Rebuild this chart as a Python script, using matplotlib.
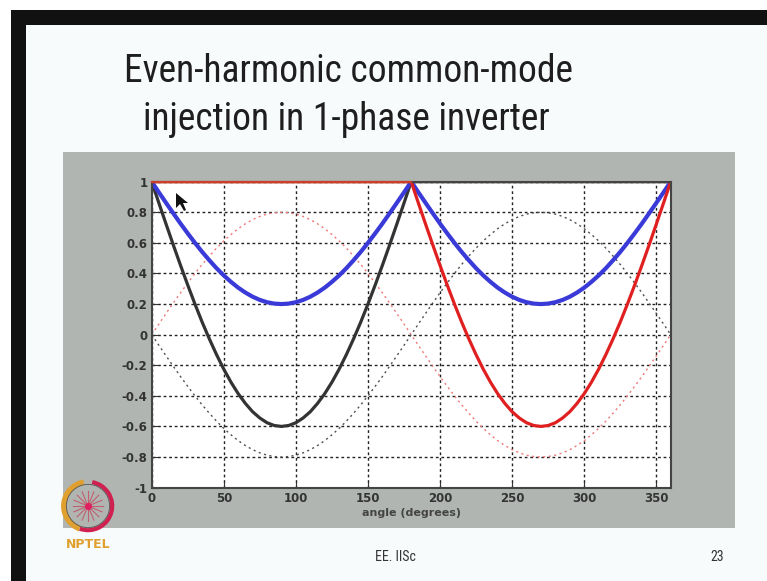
import numpy as np
import matplotlib.pyplot as plt
from matplotlib import font_manager
from matplotlib.patches import Rectangle, Arc, Polygon

# values, every 5 degrees over one half period (0..180)
half_angle = list(range(0, 181, 5))
sin_pos = [0, .070, .139, .207, .274, .338, .400, .459, .514, .566, .613, .655, .693, .725, .752, .773, .788, .797,
           .800, .797, .788, .773, .752, .725, .693, .655, .613, .566, .514, .459, .400, .338, .274, .207, .139, .070, 0]
sin_neg = [0, -.070, -.139, -.207, -.274, -.338, -.400, -.459, -.514, -.566, -.613, -.655, -.693, -.725, -.752,
           -.773, -.788, -.797, -.800, -.797, -.788, -.773, -.752, -.725, -.693, -.655, -.613, -.566, -.514, -.459,
           -.400, -.338, -.274, -.207, -.139, -.070, 0]
dip = [1, .930, .861, .793, .726, .662, .600, .541, .486, .434, .387, .345, .307, .275, .248, .227, .212, .203,
       .200, .203, .212, .227, .248, .275, .307, .345, .387, .434, .486, .541, .600, .662, .726, .793, .861, .930, 1]
deep = [1, .860, .722, .586, .453, .324, .200, .082, -.028, -.131, -.226, -.311, -.386, -.450, -.504, -.545, -.576,
        -.594, -.600, -.594, -.576, -.545, -.504, -.450, -.386, -.311, -.226, -.131, -.028, .082, .200, .324, .453,
        .586, .722, .860, 1]
flat = [1] * 37

angle = half_angle + [a + 180 for a in half_angle[1:]]
ref_a = sin_pos + sin_neg[1:]     # red dotted reference
ref_b = sin_neg + sin_pos[1:]     # black dotted reference
common = dip + dip[1:]            # blue common-mode
leg_a = flat + deep[1:]           # red solid
leg_b = deep + flat[1:]           # black solid

xticks = [0, 50, 100, 150, 200, 250, 300, 350]
yticks = [-1, -0.8, -0.6, -0.4, -0.2, 0, 0.2, 0.4, 0.6, 0.8, 1]
ylabels = ['-1', '-0.8', '-0.6', '-0.4', '-0.2', '0', '0.2', '0.4', '0.6', '0.8', '1']

# slide font is a narrow sans; use one if it is there
names = {f.name for f in font_manager.fontManager.ttflist}
narrow = next((n for n in ['Liberation Sans Narrow', 'DejaVu Sans Condensed', 'Roboto Condensed']
               if n in names), None)
if narrow:
    tfont, tsize = narrow, 27
else:
    tfont, tsize = 'Liberation Sans', 24

W, H = 767, 581
fig = plt.figure(figsize=(W / 100, H / 100), dpi=100)
fig.patch.set_facecolor('#f8fbfb')

def box(x0, y0, x1, y1, color, z=-5):
    # pixel box -> figure fraction rectangle
    fig.patches.append(Rectangle((x0 / W, 1 - y1 / H), (x1 - x0) / W, (y1 - y0) / H,
                                 transform=fig.transFigure, facecolor=color,
                                 edgecolor='none', zorder=z))

# screen frame + slide
box(0, 0, W, 10, 'white')
box(0, 0, 11, H, 'white')
box(11, 10, W, 25, '#111111')
box(11, 10, 26, H, '#111111')
box(63, 152, 735, 528, '#b0b5b2')

fig.text(0.454, 0.877, 'Even-harmonic common-mode', ha='center', va='center',
         fontsize=tsize, color='#1e1e1e', family=[tfont, 'DejaVu Sans'])
fig.text(0.452, 0.795, 'injection in 1-phase inverter', ha='center', va='center',
         fontsize=tsize, color='#1e1e1e', family=[tfont, 'DejaVu Sans'])

ax = fig.add_axes([151.7 / W, 1 - 487.6 / H, 519 / W, 305.9 / H], zorder=2)
ax.set_facecolor('white')

ax.plot(angle, ref_a, color='#f07878', lw=1, ls=(0, (1.5, 2.5)))
ax.plot(angle, ref_b, color='#505050', lw=1, ls=(0, (1.5, 2.5)))
ax.plot(angle, leg_b, color='#333333', lw=2.3)
ax.plot(angle, common, color='#3a3ad8', lw=3)
ax.plot(angle, leg_a, color='#e02020', lw=2.3)
# flat top of the red leg sits on the axis frame
ax.plot(half_angle, flat, color='#c8402a', lw=1.6, zorder=3, clip_on=False)

ax.set_xlim(0, 360)
ax.set_ylim(-1, 1)
ax.set_xticks(xticks)
ax.set_yticks(yticks)
ax.set_yticklabels(ylabels)
ax.grid(True, color='#222222', lw=1, ls=(0, (2, 2)))
ax.tick_params(direction='in', length=4, labelsize=8.5, colors='#333333', pad=3)
for lab in ax.get_xticklabels() + ax.get_yticklabels():
    lab.set_fontweight('bold')
for s in ax.spines.values():
    s.set_color('#444444')
    s.set_linewidth(1.5)
ax.set_xlabel('angle (degrees)', fontsize=8, fontweight='bold', color='#444444', labelpad=2)

# mouse pointer left on the slide
ptr = np.array([[176, 193], [176, 208], [180, 204], [184, 211], [186, 210], [183, 203], [188, 203]])
ax.add_patch(Polygon(np.column_stack([ptr[:, 0] / W, 1 - ptr[:, 1] / H]), closed=True,
                     transform=fig.transFigure, facecolor='#111111', edgecolor='none', zorder=6))

# NPTEL logo
lax = fig.add_axes([58 / W, 1 - 534 / H, 60 / W, 56 / H], zorder=3)
lax.set_xlim(-1.1, 1.1)
lax.set_ylim(-1.1, 1.1)
lax.set_aspect('equal')
lax.axis('off')
lax.add_patch(Arc((0, 0), 1.9, 1.9, theta1=100, theta2=250, color='#e0a030', lw=4))
lax.add_patch(Arc((0, 0), 1.9, 1.9, theta1=250, theta2=440, color='#d02050', lw=3))
lax.add_patch(Arc((0, 0), 1.7, 1.7, theta1=0, theta2=360, color='#555555', lw=0.6))
for a in np.linspace(0, np.pi, 8, endpoint=False):
    lax.plot([-0.6 * np.cos(a), 0.6 * np.cos(a)], [-0.6 * np.sin(a), 0.6 * np.sin(a)],
             color='#c06070', lw=0.8)
lax.plot([0], [0], 'o', color='#e02060', ms=4)
fig.text(88 / W, 1 - 545 / H, 'NPTEL', ha='center', va='center', fontsize=9,
         fontweight='bold', color='#e0a030')

fig.text(395 / W, 1 - 557 / H, 'EE. IISc', ha='center', va='center', fontsize=10,
         color='#333333', family=[tfont, 'DejaVu Sans'])
fig.text(717 / W, 1 - 557 / H, '23', ha='center', va='center', fontsize=10,
         color='#333333', family=[tfont, 'DejaVu Sans'])

fig.savefig('out.png', dpi=100)
